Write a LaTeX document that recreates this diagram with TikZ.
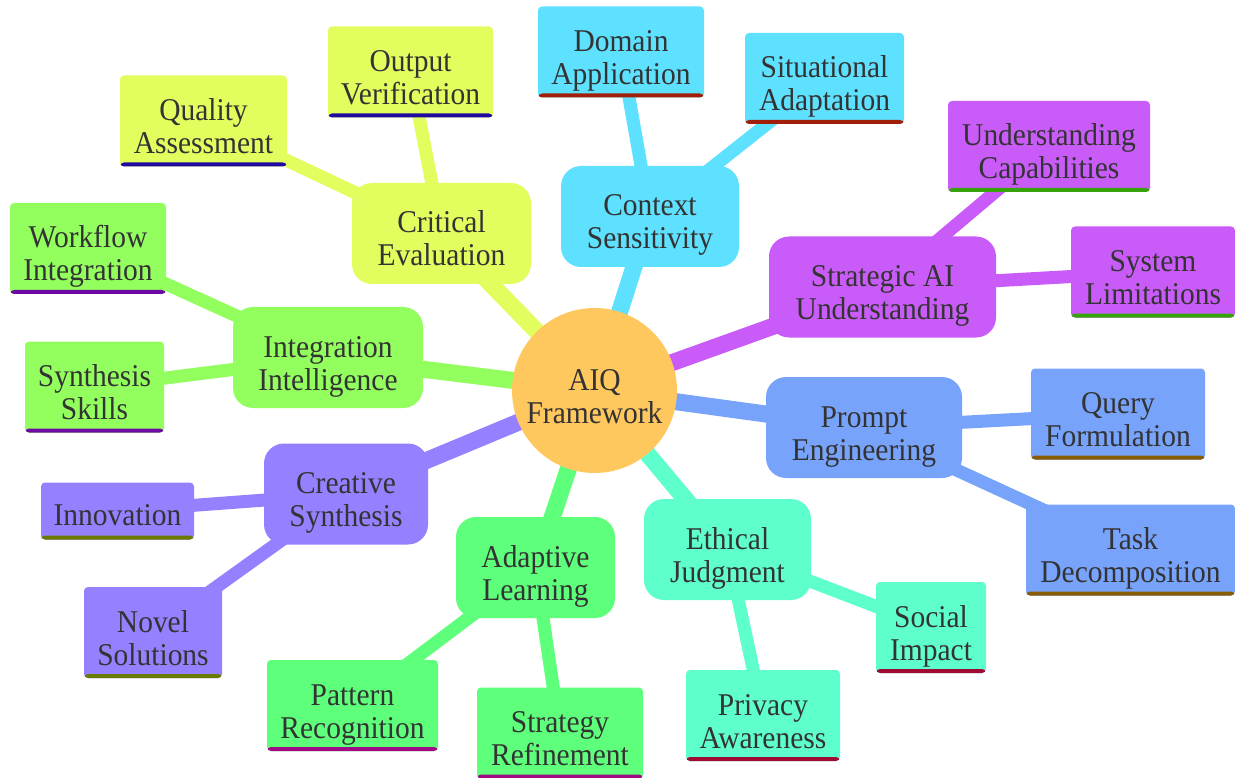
\documentclass[tikz,border=0pt]{standalone}
\usepackage{fontspec}
\setmainfont{Liberation Serif}[FakeStretch=0.93]
\usetikzlibrary{backgrounds}
\definecolor{txt}{HTML}{333333}
\definecolor{cRoot}{HTML}{FFC85E}
\definecolor{cCrit}{HTML}{E2FD5E}
\definecolor{cCtx}{HTML}{5EE1FF}
\definecolor{cStrat}{HTML}{C95CF8}
\definecolor{cPrompt}{HTML}{78A3FB}
\definecolor{cEth}{HTML}{5EFFCC}
\definecolor{cAdapt}{HTML}{5EFF7A}
\definecolor{cCreat}{HTML}{9580FF}
\definecolor{cInteg}{HTML}{93FF5E}
\definecolor{uCrit}{HTML}{1E0A9E}
\definecolor{uCtx}{HTML}{A11E0A}
\definecolor{uStrat}{HTML}{36A30A}
\definecolor{uPrompt}{HTML}{875C04}
\definecolor{uEth}{HTML}{A10A35}
\definecolor{uAdapt}{HTML}{A10A85}
\definecolor{uCreat}{HTML}{6A7A00}
\definecolor{uInteg}{HTML}{6C0AA1}
\newcommand\nodetext[2][65pt]{\raisebox{0pt}[#1][0pt]{\begin{tabular}[b]{@{}c@{}}#2\end{tabular}}}
\tikzset{
  base/.style={font=\fontsize{31.7}{33}\selectfont, text=txt, inner sep=0pt},
  rootnode/.style={base, circle, fill=cRoot, minimum size=165pt},
  lone/.style={base, rounded corners=20pt, fill=#1, minimum height=101pt},
  ltwo/.style 2 args={base, rounded corners=4pt, fill=#1, minimum height=91pt,
    path picture={\fill[#2] ([yshift=-1pt]path picture bounding box.south west) rectangle ([yshift=4pt]path picture bounding box.south east);}},
  eone/.style={line width=17pt, #1},
  etwo/.style={line width=13pt, #1}
}
\begin{document}
\begin{tikzpicture}[x=1pt, y=-1pt]
\useasboundingbox (0,0) rectangle (1235,778);

\node[rootnode] (root) at (594.5,390.5) {\nodetext{AIQ\\Framework}};

% level 1
\node[lone=cCrit, minimum width=179pt] (crit) at (441.5,233.5) {\nodetext{Critical\\Evaluation}};
\node[lone=cCtx, minimum width=178pt] (ctx) at (650,216.5) {\nodetext{Context\\Sensitivity}};
\node[lone=cStrat, minimum width=227pt] (strat) at (882.5,287) {\nodetext{Strategic AI\\Understanding}};
\node[lone=cPrompt, minimum width=196pt] (prompt) at (864,427.5) {\nodetext{Prompt\\Engineering}};
\node[lone=cEth, minimum width=167pt] (eth) at (727.5,549.5) {\nodetext{Ethical\\Judgment}};
\node[lone=cAdapt, minimum width=159pt] (adapt) at (535.5,567.5) {\nodetext{Adaptive\\Learning}};
\node[lone=cCreat, minimum width=164pt] (creat) at (346,494) {\nodetext{Creative\\Synthesis}};
\node[lone=cInteg, minimum width=190pt] (integ) at (328,357.5) {\nodetext{Integration\\Intelligence}};

% level 2
\node[ltwo={cCrit}{uCrit}, minimum width=165pt] (outv) at (410.5,72) {\nodetext{Output\\Verification}};
\node[ltwo={cCrit}{uCrit}, minimum width=167pt] (qual) at (203.5,121) {\nodetext{Quality\\Assessment}};
\node[ltwo={cCtx}{uCtx}, minimum width=166pt] (dom) at (621,52) {\nodetext{Domain\\Application}};
\node[ltwo={cCtx}{uCtx}, minimum width=159pt] (sit) at (824.5,78.5) {\nodetext{Situational\\Adaptation}};
\node[ltwo={cStrat}{uStrat}, minimum width=202pt] (ucap) at (1049,146.5) {\nodetext{Understanding\\Capabilities}};
\node[ltwo={cStrat}{uStrat}, minimum width=164pt] (syslim) at (1153,272) {\nodetext{System\\Limitations}};
\node[ltwo={cPrompt}{uPrompt}, minimum width=174pt] (query) at (1118,414) {\nodetext{Query\\Formulation}};
\node[ltwo={cPrompt}{uPrompt}, minimum width=209pt] (task) at (1130.5,550) {\nodetext{Task\\Decomposition}};
\node[ltwo={cEth}{uEth}, minimum width=110pt] (social) at (931,627.5) {\nodetext{Social\\Impact}};
\node[ltwo={cEth}{uEth}, minimum width=154pt] (priv) at (763,715.5) {\nodetext{Privacy\\Awareness}};
\node[ltwo={cAdapt}{uAdapt}, minimum width=171pt] (pattern) at (352.5,705.5) {\nodetext{Pattern\\Recognition}};
\node[ltwo={cAdapt}{uAdapt}, minimum width=166pt] (strategy) at (560,733) {\nodetext{Strategy\\Refinement}};
\node[ltwo={cCreat}{uCreat}, minimum width=153pt, minimum height=57pt] (innov) at (117.5,511) {\nodetext[28pt]{Innovation}};
\node[ltwo={cCreat}{uCreat}, minimum width=138pt] (novel) at (153,632.5) {\nodetext{Novel\\Solutions}};
\node[ltwo={cInteg}{uInteg}, minimum width=156pt] (workflow) at (88,248.5) {\nodetext{Workflow\\Integration}};
\node[ltwo={cInteg}{uInteg}, minimum width=139pt] (synth) at (94.5,387) {\nodetext{Synthesis\\Skills}};

\begin{scope}[on background layer]
\fill[white] (0,0) rectangle (1235,778);
\draw[eone=cCrit] (root.center) -- (crit.center);
\draw[eone=cCtx] (root.center) -- (ctx.center);
\draw[eone=cStrat] (root.center) -- (strat.center);
\draw[eone=cPrompt] (root.center) -- (prompt.center);
\draw[eone=cEth] (root.center) -- (eth.center);
\draw[eone=cAdapt] (root.center) -- (adapt.center);
\draw[eone=cCreat] (root.center) -- (creat.center);
\draw[eone=cInteg] (root.center) -- (integ.center);
\draw[etwo=cCrit] (crit.center) -- (outv.center);
\draw[etwo=cCrit] (crit.center) -- (qual.center);
\draw[etwo=cCtx] (ctx.center) -- (dom.center);
\draw[etwo=cCtx] (ctx.center) -- (sit.center);
\draw[etwo=cStrat] (strat.center) -- (ucap.center);
\draw[etwo=cStrat] (strat.center) -- (syslim.center);
\draw[etwo=cPrompt] (prompt.center) -- (query.center);
\draw[etwo=cPrompt] (prompt.center) -- (task.center);
\draw[etwo=cEth] (eth.center) -- (social.center);
\draw[etwo=cEth] (eth.center) -- (priv.center);
\draw[etwo=cAdapt] (adapt.center) -- (pattern.center);
\draw[etwo=cAdapt] (adapt.center) -- (strategy.center);
\draw[etwo=cCreat] (creat.center) -- (innov.center);
\draw[etwo=cCreat] (creat.center) -- (novel.center);
\draw[etwo=cInteg] (integ.center) -- (workflow.center);
\draw[etwo=cInteg] (integ.center) -- (synth.center);
\end{scope}
\end{tikzpicture}
\end{document}
